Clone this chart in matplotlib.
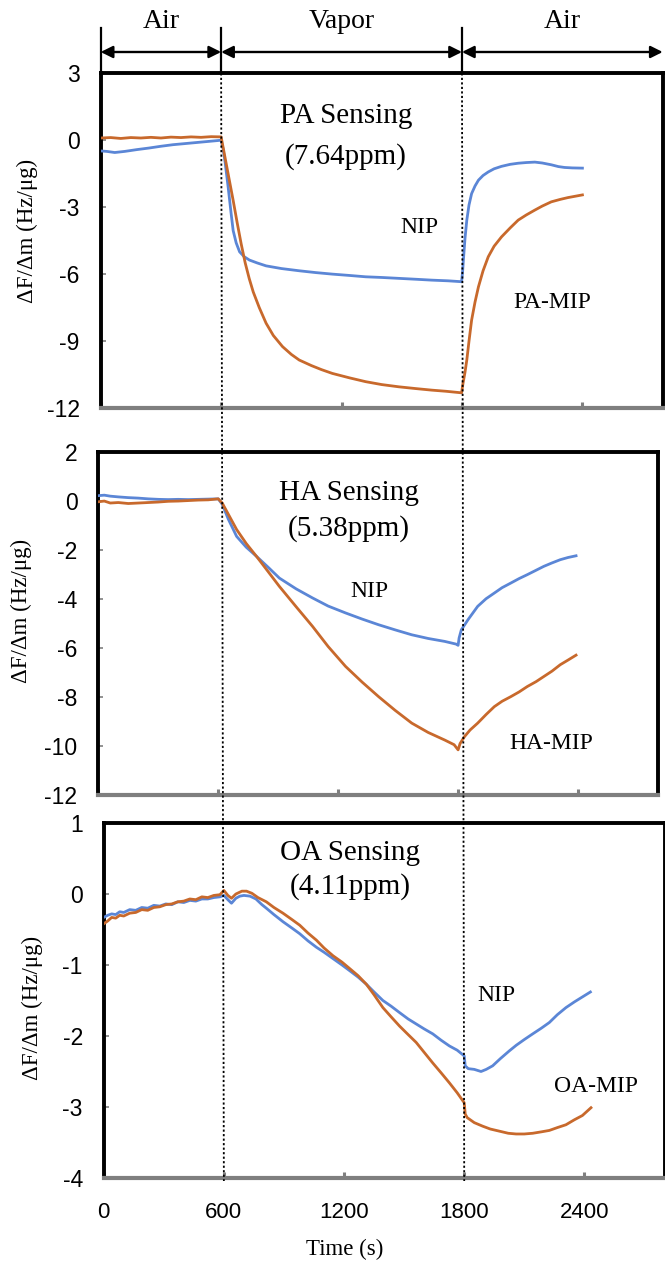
import matplotlib
matplotlib.use("Agg")
import matplotlib.pyplot as plt
from matplotlib import transforms
from matplotlib.lines import Line2D
from matplotlib.patches import FancyArrowPatch

# ---------------- data ----------------
# PA sensing (7.64 ppm)
pa_nip_t = [0, 30, 70, 120, 180, 240, 300, 360, 420, 480, 540, 600,
            610, 620, 635, 650, 660, 675, 692, 715, 741, 780, 824, 900, 989,
            1070, 1154, 1240, 1320, 1400, 1485, 1570, 1650, 1730, 1798,
            1803, 1807, 1815, 1824, 1835, 1848, 1865, 1882, 1905, 1931, 1960,
            1997, 2040, 2080, 2120, 2163, 2200, 2245, 2280, 2311, 2350, 2400]
pa_nip_v = [-0.48, -0.5, -0.55, -0.5, -0.42, -0.35, -0.27, -0.2, -0.15, -0.1, -0.05, 0.0,
            -0.4, -1.0, -2.1, -3.3, -4.05, -4.6, -5.0, -5.22, -5.37, -5.5, -5.63, -5.75, -5.85,
            -5.93, -6.0, -6.06, -6.12, -6.15, -6.19, -6.23, -6.27, -6.3, -6.34,
            -5.9, -5.37, -4.4, -3.58, -2.9, -2.39, -2.05, -1.79, -1.58, -1.42, -1.28,
            -1.17, -1.08, -1.03, -1.0, -0.98, -1.02, -1.1, -1.18, -1.22, -1.24, -1.25]

pa_mip_t = [0, 50, 100, 150, 200, 250, 300, 350, 400, 450, 500, 550, 600,
            620, 640, 660, 680, 700, 720, 740, 760, 790, 824, 860, 906, 950, 989,
            1050, 1100, 1154, 1240, 1320, 1400, 1485, 1570, 1650, 1720, 1798,
            1805, 1815, 1824, 1835, 1848, 1865, 1882, 1905, 1931, 1960, 1997,
            2040, 2080, 2120, 2163, 2200, 2245, 2290, 2328, 2370, 2400]
pa_mip_v = [0.1, 0.12, 0.08, 0.12, 0.1, 0.13, 0.1, 0.14, 0.12, 0.15, 0.13, 0.16, 0.15,
            -0.8, -1.75, -2.7, -3.7, -4.65, -5.5, -6.2, -6.8, -7.5, -8.2, -8.75, -9.25, -9.6, -9.85,
            -10.1, -10.28, -10.45, -10.65, -10.82, -10.95, -11.05, -11.13, -11.2, -11.25, -11.32,
            -10.9, -10.4, -9.85, -9.0, -8.06, -7.25, -6.57, -5.85, -5.22, -4.75, -4.33,
            -3.93, -3.58, -3.35, -3.13, -2.95, -2.76, -2.65, -2.57, -2.5, -2.45]

# HA sensing (5.38 ppm)
ha_nip_t = [0, 30, 60, 100, 150, 200, 250, 300, 350, 400, 450, 500, 550, 600,
            620, 650, 692, 740, 791, 850, 906, 990, 1072, 1150, 1237, 1320, 1402,
            1485, 1568, 1650, 1733, 1790, 1800,
            1805, 1816, 1850, 1898, 1940, 1981, 2020, 2064, 2105, 2146, 2190,
            2229, 2270, 2311, 2350, 2390]
ha_nip_v = [0.2, 0.22, 0.18, 0.15, 0.12, 0.1, 0.07, 0.05, 0.04, 0.05, 0.04, 0.05, 0.06, 0.07,
            -0.15, -0.75, -1.46, -1.9, -2.27, -2.72, -3.16, -3.6, -3.97, -4.3, -4.58, -4.83, -5.06,
            -5.27, -5.47, -5.62, -5.74, -5.85, -5.9,
            -5.6, -5.27, -4.85, -4.31, -4.0, -3.77, -3.55, -3.36, -3.18, -3.02, -2.84,
            -2.68, -2.54, -2.41, -2.32, -2.25]

ha_mip_t = [0, 30, 60, 100, 150, 200, 250, 300, 350, 400, 450, 500, 550, 600,
            620, 650, 692, 740, 791, 850, 906, 990, 1072, 1150, 1237, 1320, 1402,
            1485, 1568, 1650, 1733, 1780, 1800,
            1810, 1832, 1860, 1898, 1940, 1981, 2020, 2064, 2105, 2146, 2190,
            2229, 2270, 2311, 2350, 2390]
ha_mip_v = [-0.05, -0.02, -0.1, -0.08, -0.12, -0.1, -0.08, -0.06, -0.03, -0.02, 0.0, 0.02, 0.03, 0.07,
            -0.1, -0.55, -1.18, -1.75, -2.27, -2.9, -3.5, -4.33, -5.13, -5.95, -6.76, -7.4, -7.99,
            -8.55, -9.07, -9.45, -9.76, -9.95, -10.16,
            -9.9, -9.62, -9.35, -9.07, -8.72, -8.4, -8.18, -7.99, -7.8, -7.58, -7.38,
            -7.17, -6.95, -6.69, -6.5, -6.3]

# OA sensing (4.11 ppm)
oa_nip_t = [0, 20, 40, 60, 80, 100, 130, 160, 190, 220, 250, 280, 310, 340, 370, 400,
            430, 460, 490, 520, 550, 580, 600,
            620, 638, 660, 680, 700, 730, 760, 790, 812, 850, 895, 940, 979, 1020,
            1062, 1100, 1145, 1190, 1228, 1270, 1311, 1350, 1394, 1435, 1477, 1520,
            1560, 1600, 1643, 1685, 1726, 1765, 1800,
            1805, 1820, 1850, 1884, 1910, 1942, 1980, 2025, 2060, 2100, 2142, 2185,
            2225, 2265, 2308, 2350, 2390, 2430]
oa_nip_v = [-0.33, -0.3, -0.28, -0.29, -0.25, -0.26, -0.22, -0.23, -0.19, -0.2, -0.16, -0.17,
            -0.14, -0.15, -0.11, -0.12, -0.09, -0.1, -0.07, -0.07, -0.05, -0.04, -0.02,
            -0.08, -0.13, -0.06, -0.03, -0.02, -0.03, -0.07, -0.15, -0.2, -0.29, -0.39, -0.48,
            -0.56, -0.66, -0.75, -0.82, -0.91, -1.0, -1.08, -1.17, -1.27, -1.38, -1.5, -1.58,
            -1.67, -1.76, -1.83, -1.9, -1.97, -2.06, -2.14, -2.2, -2.28,
            -2.42, -2.46, -2.47, -2.5, -2.47, -2.42, -2.32, -2.21, -2.13, -2.05, -1.97, -1.89,
            -1.81, -1.7, -1.6, -1.52, -1.45, -1.38]

oa_mip_t = [0, 20, 40, 60, 80, 100, 130, 160, 190, 220, 250, 280, 310, 340, 370, 400,
            430, 460, 490, 520, 550, 580, 600,
            620, 638, 660, 690, 713, 740, 770, 812, 850, 895, 940, 979, 1020, 1062,
            1100, 1145, 1190, 1228, 1270, 1311, 1350, 1394, 1435, 1477, 1520, 1560,
            1600, 1643, 1685, 1726, 1765, 1800,
            1805, 1815, 1850, 1892, 1930, 1975, 2020, 2059, 2100, 2142, 2185, 2225,
            2265, 2308, 2350, 2390, 2433]
oa_mip_v = [-0.42, -0.38, -0.33, -0.34, -0.3, -0.31, -0.27, -0.26, -0.22, -0.23, -0.19, -0.18,
            -0.15, -0.14, -0.11, -0.1, -0.07, -0.08, -0.04, -0.05, -0.02, -0.01, 0.05,
            -0.02, -0.06, 0.0, 0.04, 0.04, 0.01, -0.05, -0.11, -0.19, -0.27, -0.36, -0.44,
            -0.55, -0.65, -0.76, -0.87, -0.96, -1.05, -1.15, -1.27, -1.42, -1.6, -1.73,
            -1.86, -1.98, -2.09, -2.23, -2.38, -2.52, -2.66, -2.8, -2.94,
            -3.1, -3.15, -3.22, -3.27, -3.31, -3.34, -3.37, -3.38, -3.38, -3.37, -3.35,
            -3.33, -3.29, -3.25, -3.18, -3.12, -3.01]

x_ticks = [0, 600, 1200, 1800, 2400]
pa_yticks = [3, 0, -3, -6, -9, -12]
ha_yticks = [2, 0, -2, -4, -6, -8, -10, -12]
oa_yticks = [1, 0, -1, -2, -3, -4]

phase_edges = [0, 600, 1800, 2800]
phase_names = ["Air", "Vapor", "Air"]

# ---------------- style ----------------
plt.rcParams["axes.unicode_minus"] = False
SERIF = "Liberation Serif"
SANS = "Liberation Sans"
BLUE = "#5b86d6"
ORANGE = "#c8692c"
GRAY = "#7f7f7f"

W, H = 665, 1270
fig = plt.figure(figsize=(W / 100, H / 100), dpi=100)


def add_panel(left, right, top, bottom):
    return fig.add_axes([left / W, 1 - bottom / H, (right - left) / W, (bottom - top) / H])


ax1 = add_panel(100.7, 662.7, 73.3, 408.0)
ax2 = add_panel(98.3, 658.0, 451.5, 795.0)
ax3 = add_panel(103.7, 664.5, 823.0, 1178.0)

panels = [
    (ax1, pa_nip_t, pa_nip_v, pa_mip_t, pa_mip_v, pa_yticks,
     ("PA Sensing", "(7.64ppm)"), (0.436, 0.872, 0.752), (0.568, 0.538), "PA-MIP", (0.803, 0.314),
     (-0.131, 0.529)),
    (ax2, ha_nip_t, ha_nip_v, ha_mip_t, ha_mip_v, ha_yticks,
     ("HA Sensing", "(5.38ppm)"), (0.448, 0.88, 0.777), (0.485, 0.592), "HA-MIP", (0.81, 0.151),
     (-0.138, 0.536)),
    (ax3, oa_nip_t, oa_nip_v, oa_mip_t, oa_mip_v, oa_yticks,
     ("OA Sensing", "(4.11ppm)"), (0.44, 0.915, 0.82), (0.70, 0.515), "OA-MIP", (0.877, 0.257),
     (-0.128, 0.48)),
]

for (ax, nt, nv, mt, mv, yt, title, tpos, nip_pos, mip_lab, mip_pos, ylab_pos) in panels:
    ax.plot(nt, nv, color=BLUE, lw=2.0, zorder=3)
    ax.plot(mt, mv, color=ORANGE, lw=2.0, zorder=3)
    ax.set_xlim(0, 2800)
    ax.set_ylim(min(yt), max(yt))
    ax.set_xticks(x_ticks)
    ax.set_yticks(yt)
    ax.set_yticklabels([str(v) for v in yt], fontfamily=SANS, fontsize=16.5)
    for side in ("top", "left", "right"):
        ax.spines[side].set_color("black")
        ax.spines[side].set_linewidth(2.8)
    ax.spines["bottom"].set_color(GRAY)
    ax.spines["bottom"].set_linewidth(3.0)
    ax.tick_params(axis="x", direction="in", length=4.5, width=2.2, color=GRAY, pad=17)
    ax.tick_params(axis="y", direction="in", length=3.5, width=1.2, color=GRAY, pad=15)
    ax.set_ylabel("ΔF/Δm (Hz/μg)", fontfamily=SERIF, fontsize=16.5)
    ax.yaxis.label.set_verticalalignment("center")
    ax.yaxis.set_label_coords(*ylab_pos)

    ax.text(tpos[0], tpos[1], title[0], transform=ax.transAxes, ha="center", va="center",
            fontfamily=SERIF, fontsize=21)
    ax.text(tpos[0], tpos[2], title[1], transform=ax.transAxes, ha="center", va="center",
            fontfamily=SERIF, fontsize=21)
    ax.text(nip_pos[0], nip_pos[1], "NIP", transform=ax.transAxes, ha="center", va="center",
            fontfamily=SERIF, fontsize=17)
    ax.text(mip_pos[0], mip_pos[1], mip_lab, transform=ax.transAxes, ha="center", va="center",
            fontfamily=SERIF, fontsize=17)

ax1.set_xticklabels([])
ax2.set_xticklabels([])
ax3.set_xticklabels([str(v) for v in x_ticks], fontfamily=SANS, fontsize=16)
ax3.set_xlabel("Time (s)", fontfamily=SERIF, fontsize=16.5)
ax3.xaxis.label.set_verticalalignment("center")
ax3.xaxis.set_label_coords(0.43, -0.2)

# ---------------- phase bracket above the top panel ----------------
bt = transforms.blended_transform_factory(ax1.transData, fig.transFigure)
y_line_top = 1 - 28 / H
y_arrow = 1 - 52 / H
y_text = 1 - 22 / H
y_frame = 1 - 73.3 / H

for x in phase_edges[:3]:
    fig.add_artist(Line2D([x, x], [y_line_top, y_frame], transform=bt, color="black", lw=1.6))

for (x0, x1), name in zip(zip(phase_edges[:-1], phase_edges[1:]), phase_names):
    fig.add_artist(FancyArrowPatch((x0, y_arrow), (x1, y_arrow), transform=bt,
                                   arrowstyle="<|-|>", mutation_scale=18, lw=1.7,
                                   color="black", shrinkA=0, shrinkB=0))
    fig.text((x0 + x1) / 2, y_text, name, transform=bt, ha="center", va="center",
             fontfamily=SERIF, fontsize=20)

# dotted phase boundaries through all three panels
to_fig = fig.transFigure.inverted()
for x in phase_edges[1:3]:
    top_pt = to_fig.transform(ax1.transData.transform((x, max(pa_yticks))))
    bot_pt = to_fig.transform(ax3.transData.transform((x, min(oa_yticks))))
    fig.add_artist(Line2D([top_pt[0], bot_pt[0]], [top_pt[1], bot_pt[1] - 3 / H],
                          transform=fig.transFigure, color="black", lw=1.3,
                          dashes=(1.2, 1.3), zorder=5))

fig.savefig("out.png", dpi=100)
